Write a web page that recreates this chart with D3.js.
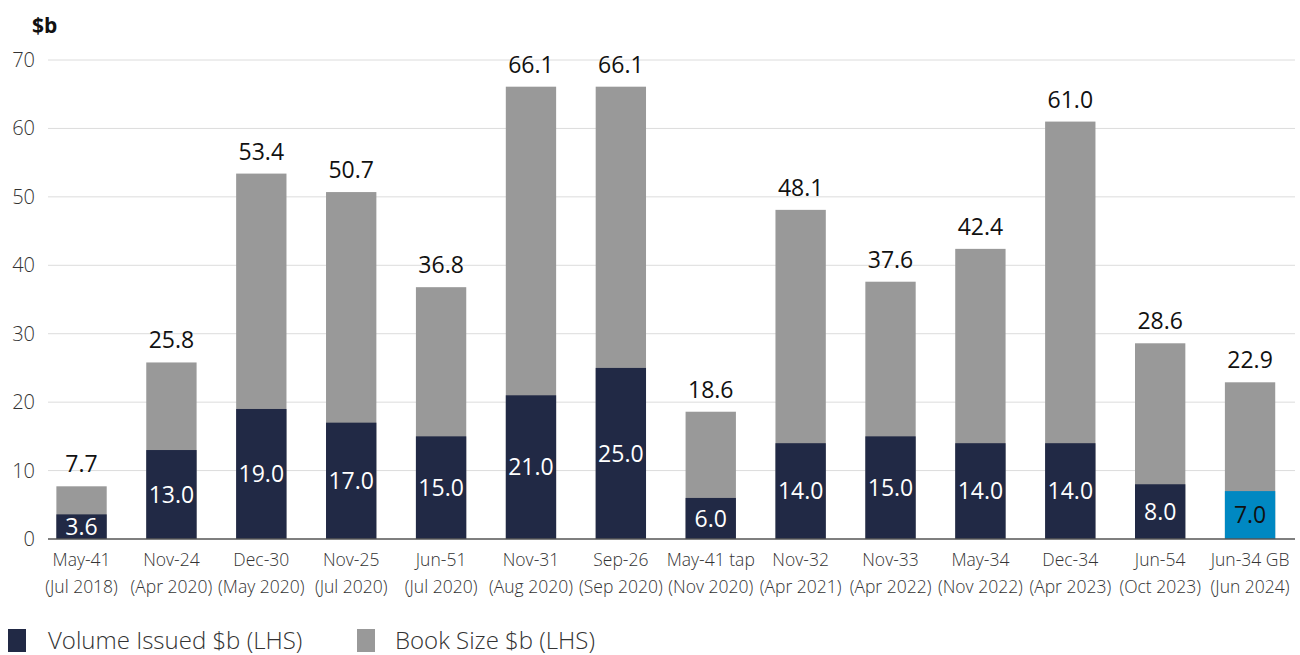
<!DOCTYPE html>
<html><head><meta charset="utf-8">
<script src="https://cdn.jsdelivr.net/npm/d3@7"></script>
<style>
html,body{margin:0;padding:0;background:#fff;}
svg{display:block;font-family:"Open Sans",sans-serif;}
</style></head>
<body><svg id="c" width="1300" height="655"></svg>
<script>
const categories = ["May-41","Nov-24","Dec-30","Nov-25","Jun-51","Nov-31","Sep-26","May-41 tap","Nov-32","Nov-33","May-34","Dec-34","Jun-54","Jun-34 GB"];
const dates = ["(Jul 2018)","(Apr 2020)","(May 2020)","(Jul 2020)","(Jul 2020)","(Aug 2020)","(Sep 2020)","(Nov 2020)","(Apr 2021)","(Apr 2022)","(Nov 2022)","(Apr 2023)","(Oct 2023)","(Jun 2024)"];
const volumeIssued = [3.6,13.0,19.0,17.0,15.0,21.0,25.0,6.0,14.0,15.0,14.0,14.0,8.0,7.0];
const bookSize = [7.7,25.8,53.4,50.7,36.8,66.1,66.1,18.6,48.1,37.6,42.4,61.0,28.6,22.9];
const yTicks = [0,10,20,30,40,50,60,70];
const seriesNames = ["Volume Issued $b (LHS)","Book Size $b (LHS)"];

const svg = d3.select("#c");
const x = d3.scaleBand().domain(categories).range([36.6,1295]).paddingInner(0.44).paddingOuter(0.22);
const y = d3.scaleLinear().domain([0,70]).range([539,60]);
const NAVY="#212945", GREY="#999999", BLUE="#0088c2";

svg.append("g").selectAll("line").data(yTicks.filter(d=>d>0)).join("line")
  .attr("x1",48).attr("x2",1295).attr("y1",d=>y(d)).attr("y2",d=>y(d))
  .attr("stroke","#dcdcdc").attr("stroke-width",1);

svg.append("g").selectAll("text").data(yTicks).join("text")
  .attr("x",35).attr("y",d=>y(d)).attr("dy","0.35em").attr("text-anchor","end")
  .attr("font-size",20).attr("font-weight",300).attr("fill","#333").text(d=>d);

svg.append("text").attr("x",32).attr("y",33).attr("font-size",21).attr("font-weight",700)
  .attr("fill","#111").text("$b");

svg.append("g").selectAll("rect").data(categories).join("rect")
  .attr("x",d=>x(d)).attr("width",x.bandwidth())
  .attr("y",(d,i)=>y(bookSize[i])).attr("height",(d,i)=>y(0)-y(bookSize[i]))
  .attr("fill",GREY);
svg.append("g").selectAll("rect").data(categories).join("rect")
  .attr("x",d=>x(d)).attr("width",x.bandwidth())
  .attr("y",(d,i)=>y(volumeIssued[i])).attr("height",(d,i)=>y(0)-y(volumeIssued[i]))
  .attr("fill",(d,i)=>i===categories.length-1?BLUE:NAVY);

svg.append("line").attr("x1",48).attr("x2",1295).attr("y1",y(0)).attr("y2",y(0))
  .attr("stroke","#555").attr("stroke-width",1.5);

svg.append("g").selectAll("text").data(categories).join("text")
  .attr("x",d=>x(d)+x.bandwidth()/2).attr("y",(d,i)=>y(bookSize[i])-14)
  .attr("text-anchor","middle").attr("font-size",23).attr("font-weight",400).attr("fill","#111")
  .text((d,i)=>bookSize[i].toFixed(1));

svg.append("g").selectAll("text").data(categories).join("text")
  .attr("x",d=>x(d)+x.bandwidth()/2).attr("y",(d,i)=>(y(volumeIssued[i])+y(0))/2)
  .attr("dy","0.36em").attr("text-anchor","middle").attr("font-size",23).attr("font-weight",400)
  .attr("fill",(d,i)=>i===categories.length-1?"#111":"#fff")
  .text((d,i)=>volumeIssued[i].toFixed(1));

const cg = svg.append("g").selectAll("g").data(categories).join("g")
  .attr("transform",d=>`translate(${x(d)+x.bandwidth()/2},0)`);
cg.append("text").attr("y",566).attr("text-anchor","middle").attr("font-size",17.5).attr("font-weight",300)
  .attr("fill","#333").text(d=>d);
cg.append("text").attr("y",593).attr("text-anchor","middle").attr("font-size",17.5).attr("font-weight",300)
  .attr("fill","#333").text((d,i)=>dates[i]);

const legX=[8,357], legC=[NAVY,GREY];
const lg = svg.append("g").selectAll("g").data(seriesNames).join("g")
  .attr("transform",(d,i)=>`translate(${legX[i]},0)`);
lg.append("rect").attr("x",0).attr("y",629).attr("width",18).attr("height",23).attr("fill",(d,i)=>legC[i]);
lg.append("text").attr("x",(d,i)=>i===0?40:38).attr("y",641).attr("dy","0.35em").attr("font-size",24).attr("font-weight",300)
  .attr("fill","#333").text(d=>d);
</script></body></html>
